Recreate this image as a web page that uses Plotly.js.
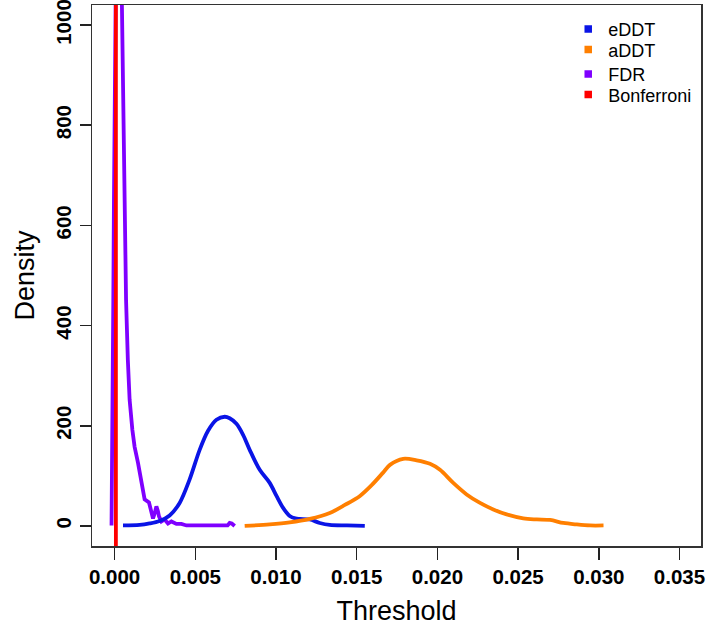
<!DOCTYPE html>
<html>
<head>
<meta charset="utf-8">
<script src="https://cdn.plot.ly/plotly-3.0.1.min.js"></script>
<style>html,body{margin:0;padding:0;background:#fff;}#chart{width:709px;height:631px;}</style>
</head>
<body>
<div id="chart"></div>
<script>
// eDDT density
const eddtX = [0.00052, 0.00155, 0.00217, 0.00279, 0.00341, 0.00403, 0.00465, 0.00527, 0.00579, 0.00631, 0.00682, 0.00713, 0.00755, 0.00796, 0.00837, 0.00899, 0.00961, 0.01003, 0.01044, 0.01085, 0.0112, 0.01147, 0.01209, 0.01271, 0.01333, 0.0144, 0.0155];
const eddtY = [1, 2, 5, 10, 21, 46, 93, 152, 190, 212, 218, 215, 204, 182, 152, 112, 86, 60, 36, 20, 15, 14, 13, 6, 2, 1, 0];
// aDDT density
const addtX = [0.00806, 0.00961, 0.01085, 0.01209, 0.01333, 0.01427, 0.0152, 0.01594, 0.01662, 0.01706, 0.01788, 0.01871, 0.01954, 0.02016, 0.02098, 0.02181, 0.02264, 0.02346, 0.02429, 0.02532, 0.02616, 0.02698, 0.0278, 0.02864, 0.02946, 0.03029];
const addtY = [0, 3, 7, 14, 26, 42, 60, 82, 106, 122, 134, 131, 124, 112, 86, 63, 46, 33, 23, 15, 13, 12, 6, 3, 1, 1];
// FDR density
const fdrX = [-0.00019, -0.00016, -0.00012, -0.00008, -0.00004, 0.0, 0.00004, 0.00008, 0.00013, 0.0002, 0.00027, 0.00034, 0.0004, 0.00045, 0.00053, 0.00061, 0.00071, 0.00082, 0.00093, 0.0011, 0.00124, 0.00145, 0.00166, 0.00186, 0.00213, 0.00228, 0.00238, 0.00248, 0.00259, 0.00268, 0.00275, 0.0029, 0.0031, 0.00331, 0.00352, 0.00383, 0.00414, 0.00445, 0.005, 0.0055, 0.006, 0.0065, 0.0070, 0.00713, 0.00726, 0.00744];
const fdrY = [1, 80, 250, 450, 650, 830, 1000, 1180, 1380, 1550, 1500, 1300, 1150, 1038, 849, 650, 451, 332, 252, 192, 158, 126, 93, 53, 47, 29, 15, 25, 39, 30, 19, 9, 13, 5, 9, 4, 4, 1, 1, 1, 1, 1, 1, 6, 5, 0];
// Bonferroni density (spike, clipped by the axis)
const bonfX = [0.00008, 0.00008];
const bonfY = [-40, 1040];

const seriesNames = ["eDDT", "aDDT", "FDR", "Bonferroni"];
const seriesColors = ["#0a14e6", "#ff7f00", "#7f00ff", "#ff0000"];
const xTicks = [0, 0.005, 0.01, 0.015, 0.02, 0.025, 0.03, 0.035];
const yTicks = [0, 200, 400, 600, 800, 1000];

const lineData = [[fdrX, fdrY, 2, 'linear'], [eddtX, eddtY, 0, 'spline'], [addtX, addtY, 1, 'spline'], [bonfX, bonfY, 3, 'linear']];
const traces = lineData.map(d => ({
  x: d[0], y: d[1], type: 'scatter', mode: 'lines',
  line: {color: seriesColors[d[2]], width: 3.8, shape: d[3], smoothing: 0.9},
  showlegend: false, hoverinfo: 'skip'
}));
const legendIds = ['legend', 'legend2', 'legend3', 'legend4'];
seriesNames.forEach((n, i) => traces.push({
  x: [null], y: [null], type: 'scatter', mode: 'markers', name: n, legend: legendIds[i],
  marker: {symbol: 'square', size: 7.5, color: seriesColors[i]}
}));

const tickFont = {family: 'Liberation Sans, Arial, sans-serif', size: 20.5, color: '#000', weight: 'bold'};
const legendYs = [0.955, 0.917, 0.872, 0.834];
const layout = {
  width: 709, height: 631,
  margin: {l: 92.3, r: 8.3, t: 5, b: 85},
  paper_bgcolor: '#fff', plot_bgcolor: '#fff',
  font: {family: 'Liberation Sans, Arial, sans-serif', color: '#000'},
  xaxis: {
    range: [-0.0014, 0.03633], tickvals: xTicks, ticktext: xTicks.map(v => v.toFixed(3)),
    showgrid: false, zeroline: false, showline: true, mirror: true, linecolor: '#333', linewidth: 1.5,
    ticks: 'outside', ticklen: 12, tickwidth: 1.5, tickcolor: '#222',
    tickfont: tickFont, ticklabeloverflow: 'allow',
    title: {text: 'Threshold', font: {size: 27, color: '#000'}, standoff: 14}
  },
  yaxis: {
    range: [-40, 1040], tickvals: yTicks, ticktext: yTicks.map(String), tickangle: -90,
    showgrid: false, zeroline: false, showline: true, mirror: true, linecolor: '#333', linewidth: 1.5,
    ticks: 'outside', ticklen: 11, tickwidth: 1.5, tickcolor: '#222',
    tickfont: tickFont, ticklabeloverflow: 'allow',
    title: {text: 'Density', font: {size: 27, color: '#000'}, standoff: 10}
  },
  showlegend: true
};
legendIds.forEach((id, i) => {
  layout[id] = {
    x: 0.782, y: legendYs[i], xanchor: 'left', yanchor: 'middle',
    font: {size: 18, color: '#000'}, bgcolor: 'rgba(0,0,0,0)', borderwidth: 0
  };
});
Plotly.newPlot('chart', traces, layout, {staticPlot: true});
</script>
</body>
</html>
